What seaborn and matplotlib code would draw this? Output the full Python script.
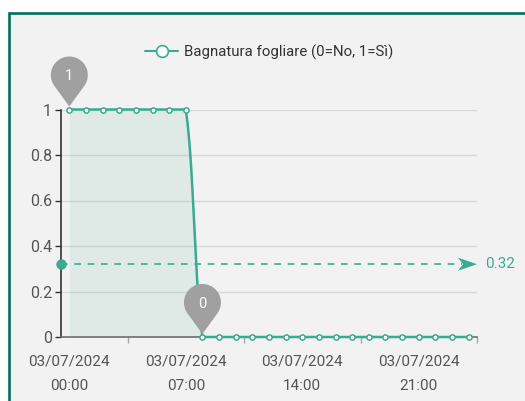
import numpy as np
import pandas as pd
import matplotlib
matplotlib.use("Agg")
import matplotlib.pyplot as plt
import seaborn as sns
from matplotlib.path import Path
from matplotlib.patches import PathPatch, Rectangle
from matplotlib.lines import Line2D
from matplotlib.transforms import Affine2D, ScaledTranslation

# data
times = ["03/07/2024\n00:00", "03/07/2024\n01:00", "03/07/2024\n02:00", "03/07/2024\n03:00",
         "03/07/2024\n04:00", "03/07/2024\n05:00", "03/07/2024\n06:00", "03/07/2024\n07:00",
         "03/07/2024\n08:00", "03/07/2024\n09:00", "03/07/2024\n10:00", "03/07/2024\n11:00",
         "03/07/2024\n12:00", "03/07/2024\n13:00", "03/07/2024\n14:00", "03/07/2024\n15:00",
         "03/07/2024\n16:00", "03/07/2024\n17:00", "03/07/2024\n18:00", "03/07/2024\n19:00",
         "03/07/2024\n20:00", "03/07/2024\n21:00", "03/07/2024\n22:00", "03/07/2024\n23:00",
         "04/07/2024\n00:00"]
wetness = [1, 1, 1, 1, 1, 1, 1, 1,
           0, 0, 0, 0, 0, 0, 0, 0, 0, 0, 0, 0, 0, 0, 0, 0, 0]
series_name = "Bagnatura fogliare (0=No, 1=Sì)"
y_ticks = [0, 0.2, 0.4, 0.6, 0.8, 1]
label_step = 7

GREEN = "#3aac8e"
PIN = "#a0a0a0"
BG = "#f2f2f2"

sns.set_theme(style="white")
plt.rcParams["font.family"] = ["Roboto", "DejaVu Sans"]


def smooth_curve(xs, ys, s=0.25, n=30):
    # echarts-like smoothing with control points clamped to each segment
    pts = np.column_stack([xs, ys]).astype(float)
    out = [pts[:1]]
    t = np.linspace(0, 1, n)[1:, None]
    for i in range(len(pts) - 1):
        p0, p1 = pts[i], pts[i + 1]
        prev = pts[max(i - 1, 0)]
        nxt = pts[min(i + 2, len(pts) - 1)]
        c1 = p0 + s * (p1 - prev)
        c2 = p1 - s * (nxt - p0)
        lo, hi = min(p0[1], p1[1]), max(p0[1], p1[1])
        c1[1] = np.clip(c1[1], lo, hi)
        c2[1] = np.clip(c2[1], lo, hi)
        out.append((1 - t) ** 3 * p0 + 3 * (1 - t) ** 2 * t * c1
                   + 3 * (1 - t) * t ** 2 * c2 + t ** 3 * p1)
    return np.vstack(out)


def pixel_patch(ax, verts, x, y, color, z=6):
    tr = Affine2D() + ScaledTranslation(x, y, ax.transData)
    patch = PathPatch(Path(verts), transform=tr, fc=color, ec="none", zorder=z, clip_on=False)
    ax.add_artist(patch)


def pin_verts(r=18.5, h=50, gap=3):
    cy = h - r + gap
    a = np.radians(np.linspace(-38, 218, 60))
    arc = np.column_stack([r * np.cos(a), cy + r * np.sin(a)])
    return np.vstack([[0, gap], arc, [0, gap]]), cy


fig = plt.figure(figsize=(5.25, 4.01), dpi=100)
fig.add_artist(Rectangle((9 / 525, -0.1), 1.0, (401 - 13) / 401 + 0.1, transform=fig.transFigure,
                         fc=BG, ec="#00705c", lw=1.9, zorder=-10))
ax = fig.add_axes([61 / 525, (401 - 337) / 401, 416 / 525, 227.5 / 401])
ax.set_facecolor("none")

idx = np.arange(len(wetness))
curve = smooth_curve(idx, wetness)
df_curve = pd.DataFrame({"x": curve[:, 0], "y": curve[:, 1]})
ax.fill_between(df_curve["x"], df_curve["y"], 0, color=GREEN, alpha=0.1, lw=0, zorder=2)
sns.lineplot(data=df_curve, x="x", y="y", sort=False, estimator=None, color=GREEN, lw=1.8,
             ax=ax, zorder=4, clip_on=False)
sns.scatterplot(x=idx, y=wetness, marker="o", s=14, color="white", edgecolor=GREEN,
                linewidth=1.1, ax=ax, zorder=5, clip_on=False)

ax.set_xlim(-0.5, len(wetness) - 0.5)
ax.set_ylim(0, 1)
ax.set_xlabel("")
ax.set_ylabel("")

# axes styling
ax.set_yticks(y_ticks)
ax.set_yticklabels([f"{v:g}" for v in y_ticks])
ax.yaxis.grid(True, color="#d8d8d8", lw=1)
ax.set_axisbelow(True)
for side in ["top", "right"]:
    ax.spines[side].set_visible(False)
ax.spines["left"].set_color("#333333")
ax.spines["left"].set_linewidth(1.2)
ax.spines["bottom"].set_color("#6e6e6e")
ax.spines["bottom"].set_linewidth(1.2)
ax.tick_params(axis="y", left=True, length=4.5, width=1, color="#333333", labelsize=11.5,
               labelcolor="#555555", pad=2)

major = idx[::label_step]
ax.set_xticks(major)
ax.set_xticklabels([times[i] for i in major], linespacing=1.95)
ax.set_xticks(list(np.arange(label_step - 3.5, len(wetness), label_step)), minor=True)
ax.tick_params(axis="x", which="major", length=0, labelsize=11, labelcolor="#555555", pad=12.5)
ax.tick_params(axis="x", which="minor", bottom=True, length=4, width=1, color="#a8a8a8")

# max / min pins
verts, cy = pin_verts()
for pos in [int(np.argmax(wetness)), int(np.argmin(wetness))]:
    val = wetness[pos]
    pixel_patch(ax, verts, pos, val, PIN, z=7)
    ax.annotate(f"{val:g}", (pos, val), xytext=(0, cy - 1), textcoords="offset pixels",
                ha="center", va="center", color="white", fontsize=10.5, zorder=8,
                annotation_clip=False)

# average line
avg = float(np.mean(wetness))
xend = len(wetness) - 0.5
ax.plot([-0.5, xend - 0.9], [avg, avg], color=GREEN, lw=1.2, ls=(0, (4, 4)), zorder=3, clip_on=False)
ax.plot([-0.5], [avg], marker="o", ms=6.5, color=GREEN, zorder=6, clip_on=False)
arrow = np.array([[0, 0], [-19, 6.5], [-14, 0], [-19, -6.5], [0, 0]])
pixel_patch(ax, arrow, xend, avg, GREEN, z=6)
ax.annotate(f"{avg:.2f}", (xend, avg), xytext=(8, 0), textcoords="offset pixels",
            ha="left", va="center", color=GREEN, fontsize=11, annotation_clip=False)

# legend
handle = Line2D([], [], color=GREEN, lw=1.5, marker="o", ms=8.5, mfc="white", mec=GREEN, mew=1.2)
fig.legend([handle], [series_name], loc="center", bbox_to_anchor=(269 / 525, 1 - 52 / 401),
           frameon=False, fontsize=10.8, handlelength=2.2, handletextpad=0.35,
           labelcolor="#333333")

fig.savefig("out.png", dpi=100)
